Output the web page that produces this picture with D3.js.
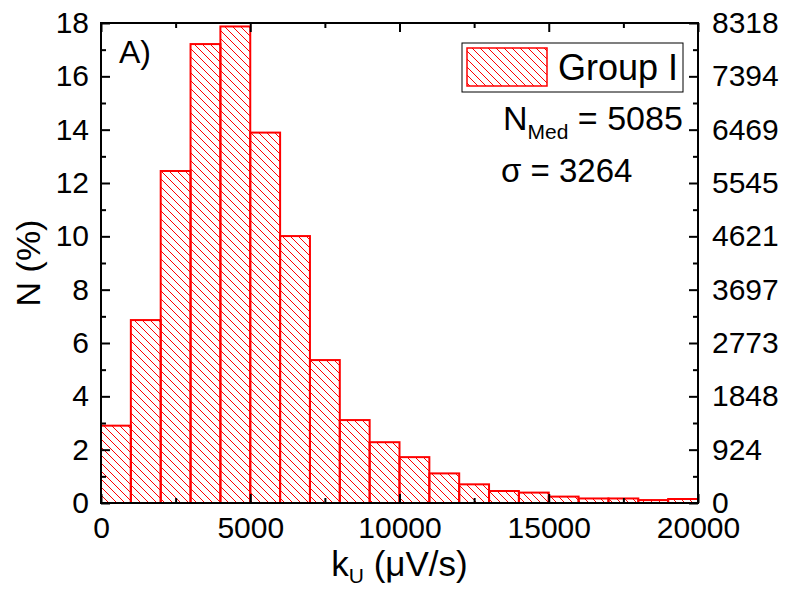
<!DOCTYPE html>
<html><head><meta charset="utf-8">
<script src="https://cdn.jsdelivr.net/npm/d3@7"></script>
<style>body{margin:0;background:#fff}svg{display:block}text{font-family:Arial,"Liberation Sans",sans-serif}</style>
</head><body><svg id="c" width="790" height="589"></svg>
<script>
const binStart = [0,1000,2000,3000,4000,5000,6000,7000,8000,9000,10000,11000,12000,13000,14000,15000,16000,17000,18000,19000];
const binWidth = 1000;
const percent = [2.9,6.86,12.45,17.21,17.87,13.89,10.01,5.36,3.11,2.28,1.72,1.11,0.70,0.45,0.39,0.24,0.17,0.17,0.11,0.15];
const leftTicks = [0,2,4,6,8,10,12,14,16,18];
const rightTickLabels = ["0","924","1848","2773","3697","4621","5545","6469","7394","8318"];
const xTicks = [0,5000,10000,15000,20000];
const xMinor = [2500,7500,12500,17500];
const yMinor = [1,3,5,7,9,11,13,15,17];

const svg = d3.select("#c");
const m = {l:101, t:23, r:92, b:86};
const W = 790 - m.l - m.r, H = 589 - m.t - m.b;
const x = d3.scaleLinear().domain([0,20000]).range([0,W]);
const y = d3.scaleLinear().domain([0,18]).range([H,0]);
const g = svg.append("g").attr("transform",`translate(${m.l},${m.t})`);

const defs = svg.append("defs");
const pat = defs.append("pattern").attr("id","hatch").attr("patternUnits","userSpaceOnUse")
  .attr("width",8).attr("height",8);
pat.append("path").attr("d","M-2,-2 L10,10 M-2,6 L2,10 M6,-2 L10,2")
  .attr("stroke","#ff0000").attr("stroke-width",1);

g.selectAll("rect.bar").data(percent).join("rect").attr("class","bar")
  .attr("x",(d,i)=>x(binStart[i])).attr("width",(d,i)=>x(binStart[i]+binWidth)-x(binStart[i]))
  .attr("y",d=>y(d)).attr("height",d=>H-y(d))
  .attr("fill","url(#hatch)").attr("stroke","#ff0000").attr("stroke-width",2);

const fs = 30;
function style(sel){sel.select(".domain").remove();sel.selectAll("line").attr("stroke","#000").attr("stroke-width",2);sel.selectAll("text").attr("font-size",fs).attr("fill","#000");}
// bottom
g.append("g").attr("transform",`translate(0,${H})`).call(d3.axisBottom(x).tickValues(xTicks).tickSize(-9).tickPadding(14).tickFormat(d3.format("d"))).call(style);
g.append("g").attr("transform",`translate(0,${H})`).call(d3.axisBottom(x).tickValues(xMinor).tickSize(-5).tickFormat("")).call(style);
// top
g.append("g").call(d3.axisTop(x).tickValues(xTicks).tickSize(-9).tickFormat("")).call(style);
g.append("g").call(d3.axisTop(x).tickValues(xMinor).tickSize(-5).tickFormat("")).call(style);
// left
g.append("g").call(d3.axisLeft(y).tickValues(leftTicks).tickSize(-9).tickPadding(12)).call(style);
g.append("g").call(d3.axisLeft(y).tickValues(yMinor).tickSize(-5).tickFormat("")).call(style);
// right
g.append("g").attr("transform",`translate(${W},0)`).call(d3.axisRight(y).tickValues(leftTicks).tickSize(-9).tickPadding(14).tickFormat((d,i)=>rightTickLabels[i])).call(style);
g.append("g").attr("transform",`translate(${W},0)`).call(d3.axisRight(y).tickValues(yMinor).tickSize(-5).tickFormat("")).call(style);
// frame
g.append("rect").attr("width",W).attr("height",H).attr("fill","none").attr("stroke","#000").attr("stroke-width",2);

// labels
g.append("text").attr("x",18).attr("y",40).attr("font-size",32).text("A)");
const xt = svg.append("text").attr("x",m.l+W/2).attr("y",576).attr("text-anchor","middle").attr("font-size",35);
xt.append("tspan").text("k");
xt.append("tspan").attr("font-size",21).attr("dy",7).text("U");
xt.append("tspan").attr("dy",-7).text(" (\u03bcV/s)");
svg.append("text").attr("transform",`translate(40,${m.t+H/2}) rotate(-90)`).attr("text-anchor","middle").attr("font-size",34).text("N (%)");

// legend
const lg = svg.append("g");
lg.append("rect").attr("x",462).attr("y",43).attr("width",221).attr("height",49).attr("fill","#fff").attr("stroke","#000").attr("stroke-width",1);
lg.append("rect").attr("x",467).attr("y",48).attr("width",80).attr("height",38).attr("fill","url(#hatch)").attr("stroke","#ff0000").attr("stroke-width",1.5);
lg.append("text").attr("x",558).attr("y",80).attr("font-size",36).text("Group I");
const t1 = svg.append("text").attr("x",503).attr("y",130).attr("font-size",34);
t1.append("tspan").text("N");
t1.append("tspan").attr("font-size",21).attr("dy",9).text("Med");
t1.append("tspan").attr("dy",-9).text(" = 5085");
svg.append("text").attr("x",501).attr("y",182).attr("font-size",33).text("\u03c3 = 3264");
</script></body></html>
